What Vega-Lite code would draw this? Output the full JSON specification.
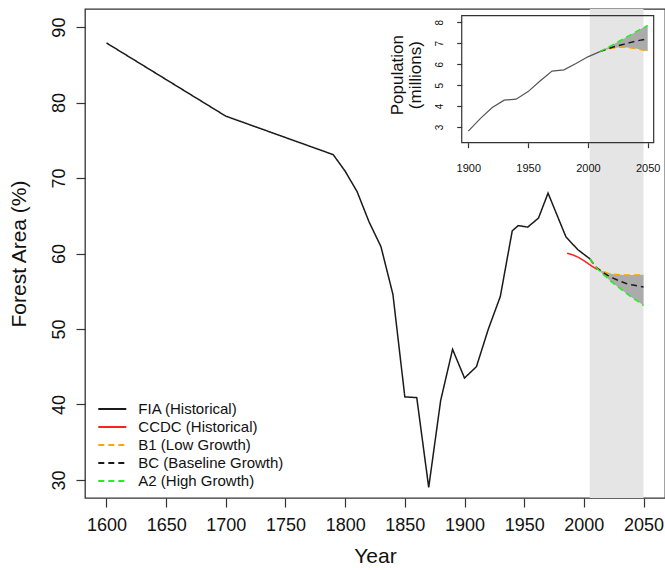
{
  "$schema": "https://vega.github.io/schema/vega-lite/v6.json",
  "width": 580,
  "height": 489,
  "autosize": {"type": "none"},
  "padding": {"left": 85, "top": 9, "right": 0, "bottom": 72},
  "background": "white",
  "config": {
    "font": "Liberation Sans",
    "view": {"stroke": "#333", "strokeWidth": 1.3},
    "axis": {"grid": false, "domain": false, "tickColor": "#333", "tickWidth": 1.2, "labelColor": "#111", "titleColor": "#111", "titleFontWeight": "normal", "labelFont": "Liberation Sans", "titleFont": "Liberation Sans"},
    "legend": {
      "orient": "none", "legendX": 12.3, "legendY": 391, "padding": 0,
      "symbolType": "stroke", "symbolSize": 784, "symbolStrokeWidth": 1.8,
      "clipHeight": 18, "rowPadding": 0, "labelFontSize": 15, "labelFont": "Liberation Sans",
      "labelColor": "#111", "labelOffset": 11, "labelBaseline": "middle"
    }
  },
  "datasets": {
    "forest": [
      {"year": 1600, "value": 87.9, "series": "FIA"},
      {"year": 1700, "value": 78.2, "series": "FIA"},
      {"year": 1790, "value": 73.1, "series": "FIA"},
      {"year": 1800, "value": 70.9, "series": "FIA"},
      {"year": 1810, "value": 68.2, "series": "FIA"},
      {"year": 1820, "value": 64.2, "series": "FIA"},
      {"year": 1830, "value": 60.9, "series": "FIA"},
      {"year": 1840, "value": 54.6, "series": "FIA"},
      {"year": 1850, "value": 41.0, "series": "FIA"},
      {"year": 1860, "value": 40.9, "series": "FIA"},
      {"year": 1870, "value": 29.0, "series": "FIA"},
      {"year": 1880, "value": 40.5, "series": "FIA"},
      {"year": 1890, "value": 47.3, "series": "FIA"},
      {"year": 1900, "value": 43.5, "series": "FIA"},
      {"year": 1910, "value": 45.0, "series": "FIA"},
      {"year": 1920, "value": 50.0, "series": "FIA"},
      {"year": 1930, "value": 54.3, "series": "FIA"},
      {"year": 1940, "value": 63.0, "series": "FIA"},
      {"year": 1945, "value": 63.7, "series": "FIA"},
      {"year": 1953, "value": 63.5, "series": "FIA"},
      {"year": 1962, "value": 64.7, "series": "FIA"},
      {"year": 1970, "value": 68.0, "series": "FIA"},
      {"year": 1985, "value": 62.2, "series": "FIA"},
      {"year": 1995, "value": 60.5, "series": "FIA"},
      {"year": 2005, "value": 59.3, "series": "FIA"},
      {"year": 1986, "value": 60.05, "series": "CCDC"},
      {"year": 1991, "value": 59.8, "series": "CCDC"},
      {"year": 1996, "value": 59.45, "series": "CCDC"},
      {"year": 2001, "value": 58.95, "series": "CCDC"},
      {"year": 2006, "value": 58.4, "series": "CCDC"},
      {"year": 2011, "value": 57.9, "series": "CCDC"},
      {"year": 2005, "value": 59.3, "series": "B1"},
      {"year": 2010, "value": 58.2, "series": "B1"},
      {"year": 2015, "value": 57.7, "series": "B1"},
      {"year": 2020, "value": 57.4, "series": "B1"},
      {"year": 2025, "value": 57.25, "series": "B1"},
      {"year": 2030, "value": 57.2, "series": "B1"},
      {"year": 2035, "value": 57.15, "series": "B1"},
      {"year": 2040, "value": 57.15, "series": "B1"},
      {"year": 2045, "value": 57.15, "series": "B1"},
      {"year": 2050, "value": 57.2, "series": "B1"},
      {"year": 2005, "value": 59.3, "series": "BC"},
      {"year": 2010, "value": 58.2, "series": "BC"},
      {"year": 2015, "value": 57.6, "series": "BC"},
      {"year": 2020, "value": 57.1, "series": "BC"},
      {"year": 2025, "value": 56.7, "series": "BC"},
      {"year": 2030, "value": 56.35, "series": "BC"},
      {"year": 2035, "value": 56.05, "series": "BC"},
      {"year": 2040, "value": 55.85, "series": "BC"},
      {"year": 2045, "value": 55.7, "series": "BC"},
      {"year": 2050, "value": 55.55, "series": "BC"},
      {"year": 2005, "value": 59.3, "series": "A2"},
      {"year": 2010, "value": 58.2, "series": "A2"},
      {"year": 2015, "value": 57.4, "series": "A2"},
      {"year": 2020, "value": 56.7, "series": "A2"},
      {"year": 2025, "value": 56.0, "series": "A2"},
      {"year": 2030, "value": 55.4, "series": "A2"},
      {"year": 2035, "value": 54.8, "series": "A2"},
      {"year": 2040, "value": 54.2, "series": "A2"},
      {"year": 2045, "value": 53.7, "series": "A2"},
      {"year": 2050, "value": 53.1, "series": "A2"}
    ],
    "period": [{"start": 2005, "end": 2050}],
    "insetFrame": [{"x0": 1894.5, "x1": 2055, "y0": 2.25, "y1": 8.315}],
    "pop": [
      {"year": 1900, "value": 2.8, "series": "Hist"},
      {"year": 1910, "value": 3.4, "series": "Hist"},
      {"year": 1920, "value": 3.93, "series": "Hist"},
      {"year": 1930, "value": 4.28, "series": "Hist"},
      {"year": 1940, "value": 4.33, "series": "Hist"},
      {"year": 1950, "value": 4.69, "series": "Hist"},
      {"year": 1960, "value": 5.2, "series": "Hist"},
      {"year": 1970, "value": 5.67, "series": "Hist"},
      {"year": 1980, "value": 5.73, "series": "Hist"},
      {"year": 1990, "value": 6.03, "series": "Hist"},
      {"year": 2000, "value": 6.35, "series": "Hist"},
      {"year": 2010, "value": 6.6, "series": "Hist"},
      {"year": 2010, "value": 6.6, "series": "B1"},
      {"year": 2015, "value": 6.69, "series": "B1"},
      {"year": 2020, "value": 6.76, "series": "B1"},
      {"year": 2025, "value": 6.8, "series": "B1"},
      {"year": 2030, "value": 6.81, "series": "B1"},
      {"year": 2035, "value": 6.79, "series": "B1"},
      {"year": 2040, "value": 6.75, "series": "B1"},
      {"year": 2045, "value": 6.69, "series": "B1"},
      {"year": 2050, "value": 6.62, "series": "B1"},
      {"year": 2010, "value": 6.6, "series": "BC"},
      {"year": 2015, "value": 6.71, "series": "BC"},
      {"year": 2020, "value": 6.8, "series": "BC"},
      {"year": 2025, "value": 6.88, "series": "BC"},
      {"year": 2030, "value": 6.95, "series": "BC"},
      {"year": 2035, "value": 7.03, "series": "BC"},
      {"year": 2040, "value": 7.1, "series": "BC"},
      {"year": 2045, "value": 7.16, "series": "BC"},
      {"year": 2050, "value": 7.2, "series": "BC"},
      {"year": 2010, "value": 6.6, "series": "A2"},
      {"year": 2015, "value": 6.75, "series": "A2"},
      {"year": 2020, "value": 6.9, "series": "A2"},
      {"year": 2025, "value": 7.06, "series": "A2"},
      {"year": 2030, "value": 7.22, "series": "A2"},
      {"year": 2035, "value": 7.38, "series": "A2"},
      {"year": 2040, "value": 7.54, "series": "A2"},
      {"year": 2045, "value": 7.7, "series": "A2"},
      {"year": 2050, "value": 7.85, "series": "A2"}
    ]
  },
  "layer": [
    {
      "layer": [
        {
          "data": {"name": "period"},
          "mark": {"type": "rect", "color": "#e5e5e5"},
          "encoding": {
            "x": {"field": "start", "type": "quantitative", "title": "Year",
              "scale": {"domain": [1582, 2068], "nice": false, "zero": false},
              "axis": {"values": [1600,1625,1650,1675,1700,1725,1750,1775,1800,1825,1850,1875,1900,1925,1950,1975,2000,2025,2050],
                "format": "d", "labelExpr": "datum.value % 50 === 0 ? datum.label : ''",
                "labelFontSize": 18, "labelPadding": 9, "tickSize": 9, "titleFontSize": 21, "titlePadding": 11,
                "labelFlush": false, "labelOverlap": false}},
            "x2": {"field": "end"}
          }
        },
        {
          "data": {"name": "forest"},
          "transform": [
            {"filter": {"field": "series", "oneOf": ["B1", "A2"]}},
            {"pivot": "series", "value": "value", "groupby": ["year"]}
          ],
          "mark": {"type": "area", "color": "#ababab", "opacity": 1},
          "encoding": {
            "x": {"field": "year", "type": "quantitative", "title": "Year", "scale": {"domain": [1582, 2068], "nice": false, "zero": false}},
            "y": {"field": "B1", "type": "quantitative", "title": "Forest Area (%)",
              "scale": {"domain": [27.6, 92.4], "nice": false, "zero": false},
              "axis": {"values": [30,40,50,60,70,80,90], "labelAngle": -90, "labelAlign": "center", "labelBaseline": "alphabetic",
                "labelFontSize": 18, "labelPadding": 12, "tickSize": 9, "titleFontSize": 21,
                "titleX": -66, "titleY": 244.5, "titleAngle": -90, "titleAlign": "center", "titleBaseline": "middle", "labelOverlap": false}},
            "y2": {"field": "A2"}
          }
        },
        {
          "data": {"name": "forest"},
          "mark": {"type": "line", "strokeWidth": 1.5},
          "encoding": {
            "x": {"field": "year", "type": "quantitative", "title": "Year", "scale": {"domain": [1582, 2068], "nice": false, "zero": false}},
            "y": {"field": "value", "type": "quantitative", "title": "Forest Area (%)", "scale": {"domain": [27.6, 92.4], "nice": false, "zero": false}},
            "color": {"field": "series", "type": "nominal", "title": null,
              "scale": {"domain": ["FIA", "CCDC", "B1", "BC", "A2"], "range": ["#1a1a1a", "#ff2020", "#ffa500", "#1a1a1a", "#22ee22"]},
              "legend": {"labelExpr": "{'FIA':'FIA (Historical)','CCDC':'CCDC (Historical)','B1':'B1 (Low Growth)','BC':'BC (Baseline Growth)','A2':'A2 (High Growth)'}[datum.label]"}},
            "strokeDash": {"field": "series", "type": "nominal", "title": null,
              "scale": {"domain": ["FIA", "CCDC", "B1", "BC", "A2"], "range": [[1, 0], [1, 0], [6, 4], [6, 4], [6, 4]]},
              "legend": {"labelExpr": "{'FIA':'FIA (Historical)','CCDC':'CCDC (Historical)','B1':'B1 (Low Growth)','BC':'BC (Baseline Growth)','A2':'A2 (High Growth)'}[datum.label]"}}
          }
        }
      ]
    },
    {
      "layer": [
        {
          "data": {"name": "insetFrame"},
          "mark": {"type": "rect", "filled": false, "stroke": "#333", "strokeWidth": 1.2},
          "encoding": {
            "x": {"field": "x0", "type": "quantitative", "title": null,
              "scale": {"domain": [1900, 2050], "range": [383.3, 562.7], "nice": false, "zero": false},
              "axis": {"orient": "bottom", "offset": -355.3, "values": [1900, 1950, 2000, 2050], "format": "d", "zindex": 2,
                "labelFontSize": 11, "tickSize": 5, "labelPadding": 15, "labelFlush": false, "labelOverlap": false}},
            "x2": {"field": "x1"},
            "y": {"field": "y0", "type": "quantitative", "title": ["Population", "(millions)"],
              "scale": {"domain": [3, 8], "range": [118, 13.3], "nice": false, "zero": false},
              "axis": {"orient": "left", "offset": -376.7, "values": [3, 4, 5, 6, 7, 8], "format": "d", "zindex": 2,
                "labelAngle": -90, "labelAlign": "center",
                "labelBaseline": "alphabetic", "labelFontSize": 10, "tickSize": 5, "labelPadding": 14,
                "titleFontSize": 17, "titlePadding": 10, "titleLineHeight": 18, "labelOverlap": false}},
            "y2": {"field": "y1"}
          }
        },
        {
          "data": {"name": "pop"},
          "transform": [
            {"filter": {"field": "series", "oneOf": ["B1", "A2"]}},
            {"pivot": "series", "value": "value", "groupby": ["year"]}
          ],
          "mark": {"type": "area", "color": "#ababab", "opacity": 1},
          "encoding": {
            "x": {"field": "year", "type": "quantitative", "title": null, "scale": {"domain": [1900, 2050], "range": [383.3, 562.7], "nice": false, "zero": false}},
            "y": {"field": "B1", "type": "quantitative", "title": ["Population", "(millions)"], "scale": {"domain": [3, 8], "range": [118, 13.3], "nice": false, "zero": false}},
            "y2": {"field": "A2"}
          }
        },
        {
          "data": {"name": "pop"},
          "transform": [{"filter": {"field": "series", "equal": "Hist"}}],
          "mark": {"type": "line", "strokeWidth": 1.2, "color": "#555"},
          "encoding": {
            "x": {"field": "year", "type": "quantitative", "title": null, "scale": {"domain": [1900, 2050], "range": [383.3, 562.7], "nice": false, "zero": false}},
            "y": {"field": "value", "type": "quantitative", "title": ["Population", "(millions)"], "scale": {"domain": [3, 8], "range": [118, 13.3], "nice": false, "zero": false}}
          }
        },
        {
          "data": {"name": "pop"},
          "transform": [{"filter": {"field": "series", "oneOf": ["B1", "BC", "A2"]}}],
          "mark": {"type": "line", "strokeWidth": 1.5},
          "encoding": {
            "x": {"field": "year", "type": "quantitative", "title": null, "scale": {"domain": [1900, 2050], "range": [383.3, 562.7], "nice": false, "zero": false}},
            "y": {"field": "value", "type": "quantitative", "title": ["Population", "(millions)"], "scale": {"domain": [3, 8], "range": [118, 13.3], "nice": false, "zero": false}},
            "color": {"field": "series", "type": "nominal", "title": null,
              "scale": {"domain": ["FIA", "CCDC", "B1", "BC", "A2"], "range": ["#1a1a1a", "#ff2020", "#ffa500", "#1a1a1a", "#22ee22"]}},
            "strokeDash": {"field": "series", "type": "nominal", "title": null,
              "scale": {"domain": ["FIA", "CCDC", "B1", "BC", "A2"], "range": [[1, 0], [1, 0], [6, 4], [6, 4], [6, 4]]}}
          }
        }
      ]
    }
  ],
  "resolve": {"scale": {"x": "independent", "y": "independent"}, "axis": {"x": "independent", "y": "independent"}}
}
